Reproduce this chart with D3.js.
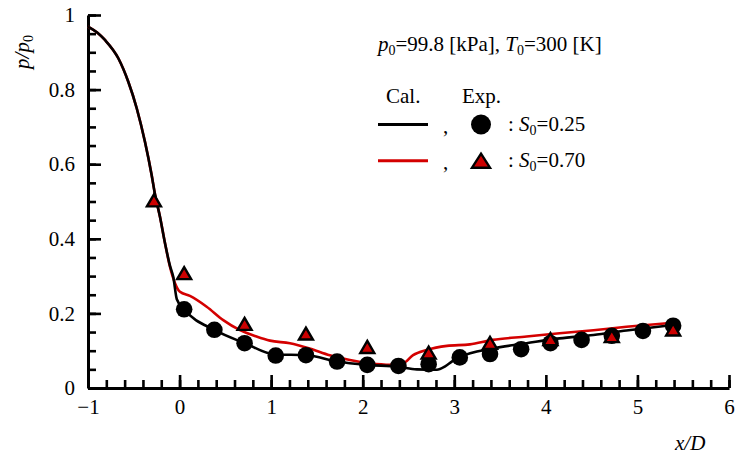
<!DOCTYPE html>
<html>
<head>
<meta charset="utf-8">
<script src="https://cdn.jsdelivr.net/npm/d3@7"></script>
<style>
  html, body { margin: 0; padding: 0; background: #fff; }
  svg { display: block; font-family: "Liberation Serif", "Times New Roman", serif; }
</style>
</head>
<body>
<svg id="chart" width="743" height="459"></svg>
<script>
// Computed wall pressure, S0 = 0.25 (black) — [x/D, p/p0]
const calS025 = [
  [-1.0, 0.969], [-0.9, 0.953], [-0.815, 0.933], [-0.669, 0.884], [-0.56, 0.821],
  [-0.468, 0.75], [-0.378, 0.66], [-0.305, 0.571], [-0.269, 0.52], [-0.214, 0.459],
  [-0.159, 0.388], [-0.105, 0.328], [-0.069, 0.298], [-0.03, 0.238], [0.05, 0.211],
  [0.386, 0.155], [0.714, 0.12], [1.04, 0.09], [1.39, 0.088], [1.72, 0.071],
  [2.04, 0.062], [2.39, 0.057], [2.59, 0.05], [2.81, 0.049], [2.9, 0.058],
  [2.98, 0.072], [3.06, 0.083], [3.42, 0.106], [3.79, 0.12], [4.15, 0.133],
  [4.52, 0.142], [4.88, 0.154], [5.39, 0.169]
];
// Computed wall pressure, S0 = 0.70 (red)
const calS070 = [
  [-1.0, 0.969], [-0.9, 0.953], [-0.815, 0.933], [-0.669, 0.884], [-0.56, 0.821],
  [-0.468, 0.75], [-0.378, 0.66], [-0.305, 0.571], [-0.269, 0.52], [-0.214, 0.459],
  [-0.159, 0.388], [-0.105, 0.325], [-0.05, 0.281], [0.004, 0.258], [0.113, 0.247],
  [0.296, 0.218], [0.477, 0.182], [0.66, 0.155], [0.84, 0.138], [0.987, 0.127],
  [1.205, 0.12], [1.42, 0.106], [1.64, 0.088], [1.86, 0.075], [2.08, 0.066],
  [2.3, 0.062], [2.44, 0.066], [2.55, 0.088], [2.7, 0.102], [2.92, 0.113],
  [3.17, 0.117], [3.42, 0.129], [3.79, 0.138], [4.15, 0.147], [4.52, 0.155],
  [4.88, 0.164], [5.39, 0.175]
];
// Measured points, S0 = 0.25 (circles)
const expS025 = [
  [0.05, 0.211], [0.38, 0.156], [0.71, 0.12], [1.05, 0.087], [1.38, 0.088],
  [1.72, 0.071], [2.05, 0.062], [2.39, 0.059], [2.72, 0.064], [3.06, 0.082],
  [3.39, 0.091], [3.73, 0.104], [4.05, 0.12], [4.39, 0.129], [4.72, 0.14],
  [5.06, 0.153], [5.39, 0.167]
];
// Measured points, S0 = 0.70 (triangles)
const expS070 = [
  [-0.28, 0.503], [0.05, 0.308], [0.71, 0.172], [1.38, 0.146], [2.05, 0.11],
  [2.72, 0.095], [3.39, 0.121], [4.05, 0.131], [4.72, 0.139], [5.39, 0.157]
];
const xTicks = [-1, 0, 1, 2, 3, 4, 5, 6];
const yTicks = [0, 0.2, 0.4, 0.6, 0.8, 1];

const RED = "#d40000";
const FILL_RED = "#cc0000";

const svg = d3.select("#chart");
const x = d3.scaleLinear().domain([-1, 6]).range([88, 729]);
const y = d3.scaleLinear().domain([0, 1]).range([388, 15]);

const line = d3.line().x(d => x(d[0])).y(d => y(d[1])).curve(d3.curveMonotoneX);

// axes: ticks point into the plot
const minorX = d3.range(-1, 6.0001, 0.2);
const minorY = d3.range(0, 1.0001, 0.05);

const gx = svg.append("g").attr("transform", `translate(0,${y(0)})`);
gx.call(d3.axisBottom(x).tickValues(minorX).tickSizeInner(-8).tickSizeOuter(0).tickFormat(""));
gx.call(g => g.selectAll(".domain").remove());
const gxMaj = svg.append("g").attr("transform", `translate(0,${y(0)})`)
  .call(d3.axisBottom(x).tickValues(xTicks).tickSizeInner(-13).tickSizeOuter(0)
    .tickPadding(11).tickFormat(d3.format("d")));

const gy = svg.append("g").attr("transform", `translate(${x(-1)},0)`);
gy.call(d3.axisLeft(y).tickValues(minorY).tickSizeInner(-8).tickSizeOuter(0).tickFormat(""));
gy.call(g => g.selectAll(".domain").remove());
const gyMaj = svg.append("g").attr("transform", `translate(${x(-1)},0)`)
  .call(d3.axisLeft(y).tickValues(yTicks).tickSizeInner(-13).tickSizeOuter(0)
    .tickPadding(13).tickFormat(d => d === 0 || d === 1 ? String(d) : d3.format(".1f")(d)));

[gx, gy, gxMaj, gyMaj].forEach(g => {
  g.selectAll("line").attr("stroke", "#000").attr("stroke-width", 2.6);
  g.selectAll(".domain").attr("stroke", "#000").attr("stroke-width", 3);
  g.selectAll("text").attr("font-family", "Liberation Serif, serif")
    .attr("font-size", 21).attr("fill", "#000");
});

// axis titles
const yl = svg.append("text")
  .attr("transform", "translate(29,52) rotate(-90)")
  .attr("text-anchor", "middle").attr("font-size", 21).attr("font-style", "italic");
yl.append("tspan").text("p/p");
yl.append("tspan").attr("font-size", 14).attr("font-style", "normal").attr("dy", 4).text("0");

svg.append("text").attr("x", 675).attr("y", 450).attr("font-size", 21)
  .attr("font-style", "italic").text("x/D");

// computed curves
svg.append("path").datum(calS070).attr("d", line)
  .attr("fill", "none").attr("stroke", RED).attr("stroke-width", 2.6);
svg.append("path").datum(calS025).attr("d", line)
  .attr("fill", "none").attr("stroke", "#000").attr("stroke-width", 2.6);

// markers
function triPath(w, h) {
  return `M0,${-h / 2}L${w / 2},${h / 2}L${-w / 2},${h / 2}Z`;
}
svg.append("g").selectAll("circle").data(expS025).join("circle")
  .attr("cx", d => x(d[0])).attr("cy", d => y(d[1])).attr("r", 8.3)
  .attr("fill", "#000");
svg.append("g").selectAll("path").data(expS070).join("path")
  .attr("transform", d => `translate(${x(d[0])},${y(d[1])})`)
  .attr("d", triPath(14, 12))
  .attr("fill", FILL_RED).attr("stroke", "#000").attr("stroke-width", 2.4)
  .attr("stroke-linejoin", "miter");

// legend
const lg = svg.append("g").attr("font-size", 21);
const title = lg.append("text").attr("x", 378).attr("y", 51);
title.append("tspan").attr("font-style", "italic").text("p");
title.append("tspan").attr("font-size", 14).attr("dy", 4).text("0");
title.append("tspan").attr("dy", -4).text("=99.8 [kPa], ");
title.append("tspan").attr("font-style", "italic").text("T");
title.append("tspan").attr("font-size", 14).attr("dy", 4).text("0");
title.append("tspan").attr("dy", -4).text("=300 [K]");

lg.append("text").attr("x", 386).attr("y", 103).text("Cal.");
lg.append("text").attr("x", 462).attr("y", 103).text("Exp.");

const rows = [
  { y: 124.5, stroke: "#000", label: "0.25", marker: "circle" },
  { y: 160.7, stroke: RED, label: "0.70", marker: "tri" }
];
rows.forEach(r => {
  lg.append("line").attr("x1", 378).attr("x2", 428).attr("y1", r.y).attr("y2", r.y)
    .attr("stroke", r.stroke).attr("stroke-width", 3);
  lg.append("text").attr("x", 443).attr("y", r.y + 8).text(",");
  if (r.marker === "circle") {
    lg.append("circle").attr("cx", 481).attr("cy", r.y).attr("r", 10).attr("fill", "#000");
  } else {
    lg.append("path").attr("transform", `translate(481,${r.y})`).attr("d", triPath(18, 14))
      .attr("fill", FILL_RED).attr("stroke", "#000").attr("stroke-width", 2.4);
  }
  const t = lg.append("text").attr("x", 508).attr("y", r.y + 6.5);
  t.append("tspan").text(": ");
  t.append("tspan").attr("font-style", "italic").text("S");
  t.append("tspan").attr("font-size", 14).attr("dy", 4).text("0");
  t.append("tspan").attr("dy", -4).text("=" + r.label);
});
</script>
</body>
</html>
